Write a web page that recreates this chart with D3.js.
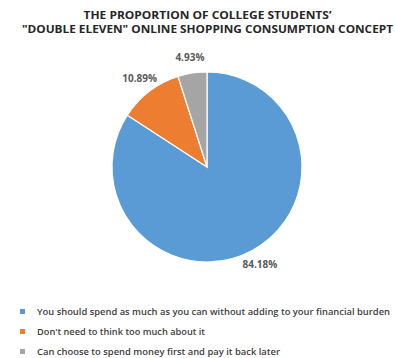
<!DOCTYPE html>
<html><head><meta charset="utf-8">
<script src="https://cdn.jsdelivr.net/npm/d3@7"></script>
<style>body{margin:0;background:#fff;} svg{display:block;}</style>
</head><body>
<svg id="chart" width="395" height="358"></svg>
<script>
const categories = [
  "You should spend as much as you can without adding to your financial burden",
  "Don't need to think too much about it",
  "Can choose to spend money first and pay it back later"
];
const values = [84.18, 10.89, 4.93];
const valueLabels = ["84.18%", "10.89%", "4.93%"];
const colors = ["#5B9BD5", "#ED7D31", "#A5A5A5"];
const titleLines = ["THE PROPORTION OF COLLEGE STUDENTS\u2019", "\"DOUBLE ELEVEN\" ONLINE SHOPPING CONSUMPTION CONCEPT"];

const svg = d3.select("#chart");
const font = "'Open Sans', 'Noto Sans', sans-serif";

// title
const titleW = [248, 371];
const titleY = [19, 32.5];
titleLines.forEach((t, i) => {
  svg.append("text").attr("x", 207.5).attr("y", titleY[i])
    .attr("text-anchor", "middle").attr("font-family", font)
    .attr("font-weight", "bold").attr("font-size", 10.5).attr("fill", "#262626")
    .attr("textLength", titleW[i]).attr("lengthAdjust", "spacingAndGlyphs")
    .text(t);
});

const cx = 207, cy = 167, R = 95;
const pie = d3.pie().sort(null).value(d => d)(values);
const arc = d3.arc().innerRadius(0).outerRadius(R);
const labelArc = d3.arc().innerRadius(111).outerRadius(111);
const color = d3.scaleOrdinal().domain(d3.range(values.length)).range(colors);

const g = svg.append("g").attr("transform", `translate(${cx},${cy})`);
g.selectAll("path").data(pie).join("path")
  .attr("d", arc).attr("fill", (d, i) => color(i))
  .attr("stroke", "#fff").attr("stroke-width", 1.2);

g.selectAll("text.lbl").data(pie).join("text").attr("class", "lbl")
  .attr("transform", d => `translate(${labelArc.centroid(d)})`)
  .attr("text-anchor", "middle").attr("dy", "0.35em")
  .attr("font-family", font).attr("font-weight", "bold").attr("font-size", 10)
  .attr("fill", "#595959")
  .text((d, i) => valueLabels[i]);

// legend
const legW = [353, 168, 243];
const legY = d3.scalePoint().domain(d3.range(categories.length)).range([312, 352]);
const leg = svg.append("g");
categories.forEach((c, i) => {
  leg.append("rect").attr("x", 20).attr("y", legY(i) - 3).attr("width", 5).attr("height", 5)
    .attr("fill", color(i));
  leg.append("text").attr("x", 37).attr("y", legY(i)).attr("dy", "0.35em")
    .attr("font-family", font).attr("font-size", 9.5).attr("font-weight", 600).attr("fill", "#404040")
    .attr("textLength", legW[i]).attr("lengthAdjust", "spacingAndGlyphs")
    .text(c);
});
</script>
</body></html>
